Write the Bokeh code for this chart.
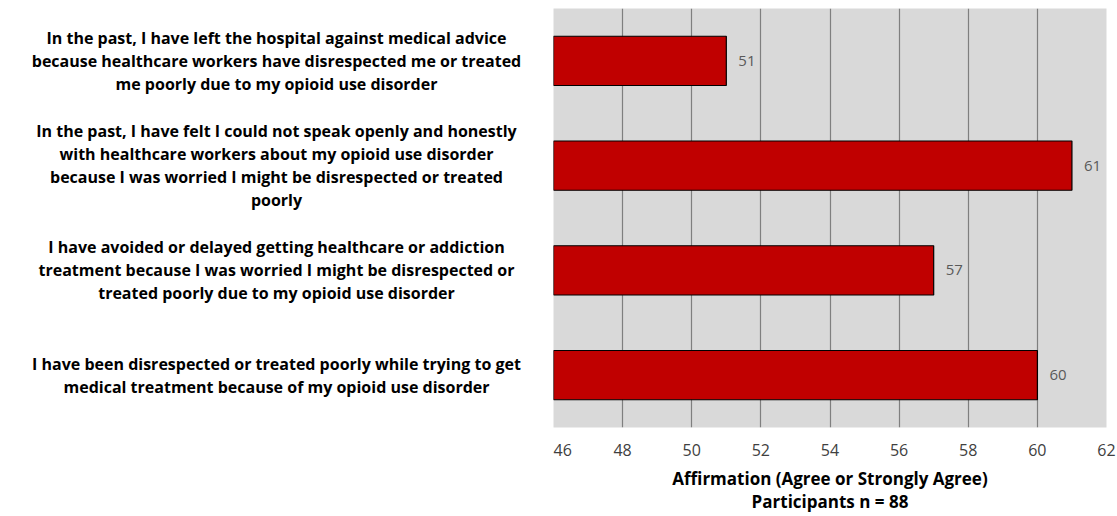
from bokeh.plotting import figure
from bokeh.layouts import row
from bokeh.models import ColumnDataSource, LabelSet, Range1d, FixedTicker
from bokeh.core.properties import value
from bokeh.embed import file_html
from bokeh.resources import INLINE

# Survey statements, listed top to bottom
statements = [
    "In the past, I have left the hospital against medical advice\nbecause healthcare workers have disrespected me or treated\nme poorly due to my opioid use disorder",
    "In the past, I have felt I could not speak openly and honestly\nwith healthcare workers about my opioid use disorder\nbecause I was worried I might be disrespected or treated\npoorly",
    "I have avoided or delayed getting healthcare or addiction\ntreatment because I was worried I might be disrespected or\ntreated poorly due to my opioid use disorder",
    "I have been disrespected or treated poorly while trying to get\nmedical treatment because of my opioid use disorder",
]
# Number of participants affirming each statement
affirmed = [51, 61, 57, 60]
x_ticks = [46, 48, 50, 52, 54, 56, 58, 60, 62]

n = len(statements)
ypos = [n - 0.5 - i for i in range(n)]

src = ColumnDataSource(dict(
    y=ypos,
    v=affirmed,
    lab=[str(a) for a in affirmed],
    stmt=statements,
))

y_range = Range1d(0, n)
LEFT_W = 553
TOP, BOTTOM = 8, 89

# ---- left panel: statement texts ----
lp = figure(
    width=LEFT_W, height=516,
    x_range=Range1d(0, LEFT_W), y_range=y_range,
    output_backend="svg", toolbar_location=None,
    min_border_left=0, min_border_right=0,
    min_border_top=TOP, min_border_bottom=BOTTOM,
)
lp.axis.visible = False
lp.grid.visible = False
lp.outline_line_color = None
lp.background_fill_color = "white"
lp.border_fill_color = "white"
lp.text(x=276, y="y", text="stmt", source=src,
        text_align="center", text_baseline="middle",
        text_font=value("Open Sans"), text_font_style="bold",
        text_font_size="16px", text_color="black",
        text_line_height=1.04)

# ---- right panel: bars ----
p = figure(
    width=1117 - LEFT_W, height=516,
    x_range=Range1d(x_ticks[0], x_ticks[-1]),
    y_range=y_range,
    output_backend="svg", toolbar_location=None,
    min_border_left=0, min_border_right=11,
    min_border_top=TOP, min_border_bottom=BOTTOM,
)
p.background_fill_color = "#d9d9d9"
p.border_fill_color = "white"
p.outline_line_color = None

p.hbar(y="y", left=x_ticks[0], right="v", height=0.47, source=src,
       fill_color="#c00000", line_color="black", line_width=1.2)

# value labels next to bar ends
p.add_layout(LabelSet(x="v", y="y", text="lab", source=src, x_offset=12,
                      text_align="left", text_baseline="middle",
                      text_font=value("Open Sans"), text_font_size="15px",
                      text_color="#595959"))

p.yaxis.visible = False
p.ygrid.visible = False

p.xaxis.ticker = FixedTicker(ticks=x_ticks)
p.xgrid.ticker = FixedTicker(ticks=x_ticks[1:])
p.xgrid.grid_line_color = "#7f7f7f"
p.xgrid.grid_line_width = 1.2

xa = p.xaxis[0]
xa.axis_line_color = None
xa.major_tick_line_color = None
xa.minor_tick_line_color = None
xa.major_label_standoff = 10
xa.major_label_text_font = "Open Sans"
xa.major_label_text_font_size = "16px"
xa.major_label_text_color = "#404040"
xa.axis_label = "Affirmation (Agree or Strongly Agree)\nParticipants n = 88"
xa.axis_label_standoff = 8
xa.axis_label_text_font = "Open Sans"
xa.axis_label_text_font_style = "bold"
xa.axis_label_text_font_size = "17px"
xa.axis_label_text_color = "black"
xa.axis_label_text_line_height = 1.02

layout = row(lp, p, spacing=0)
open("out.html", "w").write(file_html(layout, INLINE))
